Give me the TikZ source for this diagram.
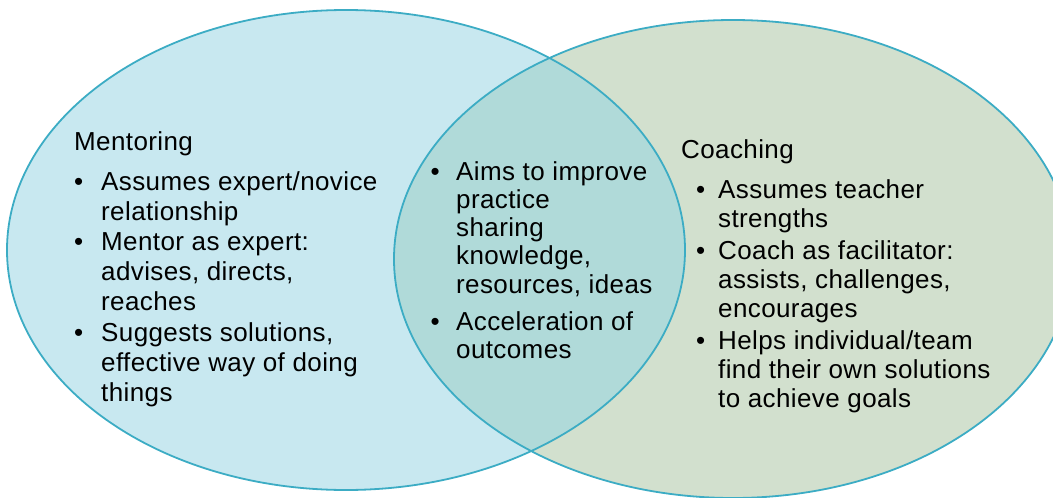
\documentclass[tikz,border=0pt]{standalone}
\usepackage{fontspec}
\setmainfont{Liberation Sans}[LetterSpace=1.5]
\usepackage{array}
\definecolor{mentfill}{HTML}{C8E8F0}
\definecolor{coachfill}{HTML}{D2E0CE}
\definecolor{overfill}{HTML}{B0DAD9}
\definecolor{rim}{HTML}{3CACC4}
\begin{document}
\begin{tikzpicture}[x=1pt,y=-1pt,
  rimline/.style={draw=rim,line width=1.8pt},
  head/.style={anchor=base west,inner sep=0pt,font=\fontsize{26}{30}\selectfont},
  blist/.style={anchor=base west,inner sep=0pt,align=left}]
\useasboundingbox (0,0) rectangle (1053,498);
\clip (0,0) rectangle (1053,498);
% fills
\path[fill=mentfill] (346,250) ellipse [x radius=339pt, y radius=240pt];
\path[fill=coachfill] (733,259) ellipse [x radius=339pt, y radius=239pt];
\begin{scope}
  \clip (346,250) ellipse [x radius=339pt, y radius=240pt];
  \path[fill=overfill] (733,259) ellipse [x radius=339pt, y radius=239pt];
\end{scope}
% outlines
\path[rimline] (346,250) ellipse [x radius=339pt, y radius=240pt];
\path[rimline] (733,259) ellipse [x radius=339pt, y radius=239pt];
% texts
\node[head] (mhead) at (74,150) {Mentoring};
\node[blist,font=\fontsize{26}{30}\selectfont] (mlist) at (74,190) {%
\begin{tabular}[t]{@{}p{27pt}@{}l@{}}
• & Assumes expert/novice\\
  & relationship\\[0.5pt]
• & Mentor as expert:\\
  & advises, directs,\\
  & reaches\\[0.5pt]
• & Suggests solutions,\\
  & effective way of doing\\
  & things
\end{tabular}};
\node[head] (chead) at (681,158) {Coaching};
\node[blist,font=\fontsize{26}{29}\selectfont] (clist) at (696,198) {%
\begin{tabular}[t]{@{}p{22pt}@{}l@{}}
• & Assumes teacher\\
  & strengths\\[3pt]
• & Coach as facilitator:\\
  & assists, challenges,\\
  & encourages\\[3pt]
• & Helps individual/team\\
  & find their own solutions\\
  & to achieve goals
\end{tabular}};
\node[blist,font=\fontsize{26}{28.3}\selectfont] (ilist) at (430.5,180) {%
\begin{tabular}[t]{@{}p{25.5pt}@{}l@{}}
• & Aims to improve\\
  & practice\\
  & sharing\\
  & knowledge,\\
  & resources, ideas\\[8.5pt]
• & Acceleration of\\
  & outcomes
\end{tabular}};
\end{tikzpicture}
\end{document}
